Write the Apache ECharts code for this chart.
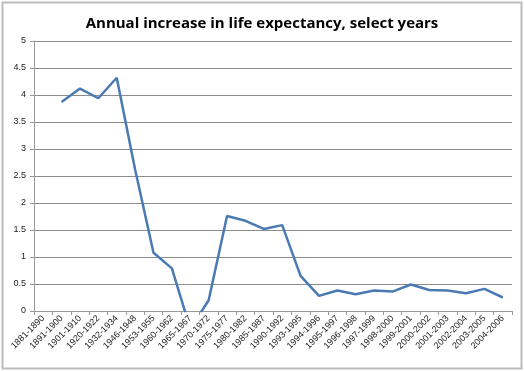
<!DOCTYPE html>
<html><head><meta charset="utf-8">
<script src="https://cdn.jsdelivr.net/npm/echarts@6/dist/echarts.min.js"></script>
<style>html,body{margin:0;padding:0;background:#fff}#c{width:524px;height:371px}</style>
</head><body><div id="c"></div>
<script>
const categories = ["1881-1890","1891-1900","1901-1910","1920-1922","1932-1934","1946-1948","1953-1955","1960-1962","1965-1967","1970-1972","1975-1977","1980-1982","1985-1987","1990-1992","1993-1995","1994-1996","1995-1997","1996-1998","1997-1999","1998-2000","1999-2001","2000-2002","2001-2003","2002-2004","2003-2005","2004-2006"];
const values = [null,3.87,4.12,3.94,4.32,2.62,1.08,0.79,-0.33,0.20,1.76,1.67,1.52,1.59,0.65,0.28,0.38,0.31,0.38,0.36,0.49,0.39,0.38,0.33,0.41,0.25];
const yTicks = [0,0.5,1,1.5,2,2.5,3,3.5,4,4.5,5];
const chart = echarts.init(document.getElementById('c'));
chart.setOption({
  animation:false,
  title:{text:'Annual increase in life expectancy, select years',left:'center',top:11,
    textStyle:{fontFamily:'Open Sans',fontWeight:'bold',fontSize:15,color:'#000'}},
  graphic:[{type:'rect',shape:{x:2.5,y:2.5,width:519,height:366},style:{fill:null,stroke:'#bcbcbc',lineWidth:2}}],
  grid:{left:34,right:12,top:41,bottom:60},
  xAxis:{type:'category',data:categories,boundaryGap:true,
    axisLine:{lineStyle:{color:'#999'}},
    axisTick:{show:true,alignWithLabel:false,length:4,lineStyle:{color:'#999'}},
    axisLabel:{rotate:45,fontSize:9,color:'#222',fontFamily:'Liberation Sans',interval:0,margin:6}},
  yAxis:{type:'value',min:yTicks[0],max:yTicks[yTicks.length-1],interval:0.5,
    axisLine:{show:true,lineStyle:{color:'#999'}},
    axisTick:{show:true,length:4,lineStyle:{color:'#999'}},
    splitLine:{lineStyle:{color:'#8c8c8c'}},
    axisLabel:{fontSize:9,color:'#222',fontFamily:'Liberation Sans',margin:8}},
  series:[{type:'line',data:values,showSymbol:false,symbol:'none',clip:true,connectNulls:false,
    lineStyle:{color:'#4a7ab4',width:2.5}}]
});
</script></body></html>
